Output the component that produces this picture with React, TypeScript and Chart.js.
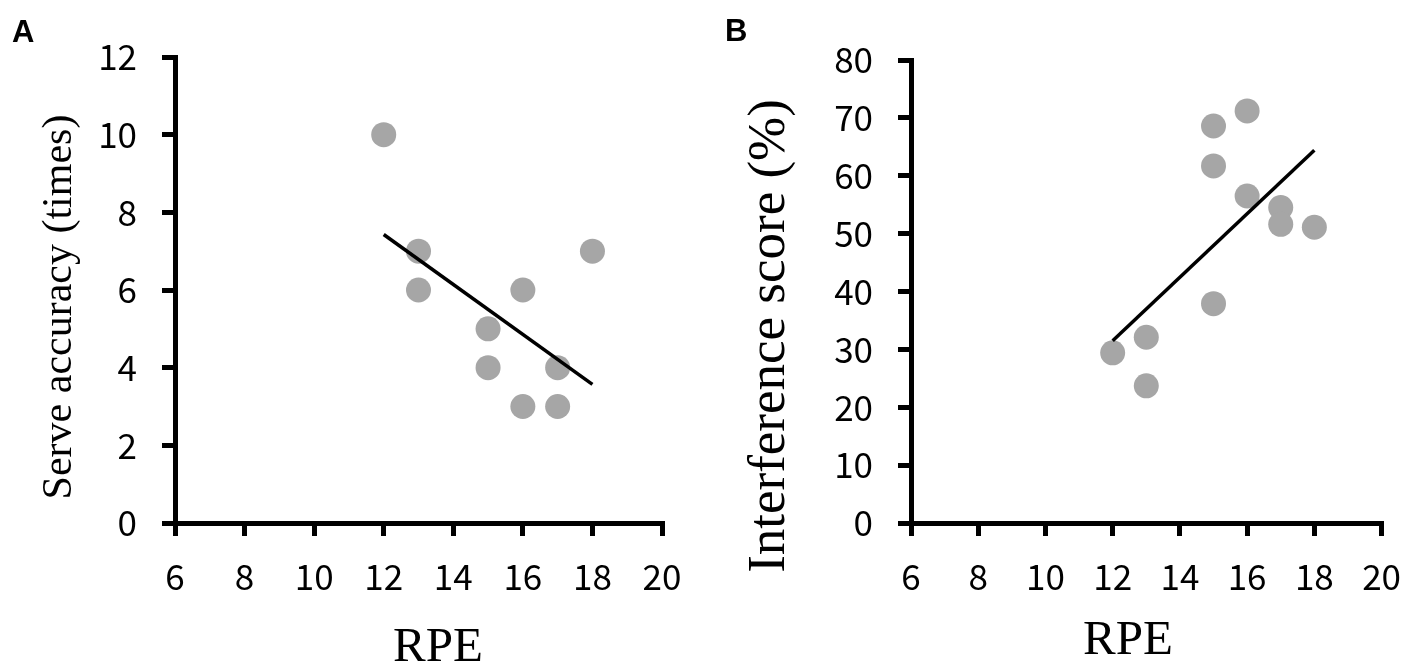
import React, { useEffect, useRef } from 'react';
import { Chart, registerables } from 'chart.js';

Chart.register(...registerables);

// ---------- data ----------
const rpeTicks = [6, 8, 10, 12, 14, 16, 18, 20];

const serveTicks = [0, 2, 4, 6, 8, 10, 12];
const rpeA = [12, 13, 13, 15, 15, 16, 16, 17, 17, 18];
const serveAccuracy = [10, 7, 6, 5, 4, 6, 3, 4, 3, 7];
const trendAX = [12, 18];
const trendAY = [7.43, 3.57];

const interferenceTicks = [0, 10, 20, 30, 40, 50, 60, 70, 80];
const rpeB = [12, 13, 13, 15, 15, 15, 16, 16, 17, 17, 18];
const interferenceScore = [29.4, 32.1, 23.7, 68.6, 61.7, 37.9, 71.2, 56.5, 54.5, 51.6, 51.1];
const trendBX = [12, 18];
const trendBY = [31.5, 64.4];

// ---------- helpers ----------
const pts = (xs: number[], ys: number[]) => xs.map((x, i) => ({ x, y: ys[i] }));

const textPlugin = {
  id: 'panelTexts',
  afterDraw(chart: any, _args: any, opts: any) {
    const ctx = chart.ctx;
    for (const t of opts.items || []) {
      ctx.save();
      ctx.font = t.font;
      ctx.fillStyle = '#000';
      ctx.textAlign = t.align || 'center';
      ctx.textBaseline = t.baseline || 'alphabetic';
      ctx.translate(t.x, t.y);
      if (t.rotate) ctx.rotate(t.rotate);
      ctx.fillText(t.text, 0, 0);
      ctx.restore();
    }
  },
};

const tickFont = { family: '"Noto Sans CJK KR", "Noto Sans", sans-serif', size: 35 };
const serif = '"Liberation Serif", "Times New Roman", serif';

function makeConfig(p: {
  xs: number[]; ys: number[]; lx: number[]; ly: number[];
  yTicks: number[]; padding: any; yWidth: number; texts: any[];
}): any {
  const axisCommon = {
    border: { display: true, color: '#000', width: 5 },
    grid: {
      display: true,
      drawOnChartArea: false,
      drawTicks: true,
      tickLength: 13,
      tickWidth: 5,
      lineWidth: 5,
      tickColor: '#000',
      color: '#000',
    },
  };
  return {
    type: 'scatter',
    data: {
      datasets: [
        {
          type: 'line',
          data: pts(p.lx, p.ly),
          borderColor: '#000',
          borderWidth: 3.5,
          pointRadius: 0,
          fill: false,
          order: 0,
        },
        {
          type: 'scatter',
          data: pts(p.xs, p.ys),
          backgroundColor: '#a6a6a6',
          borderWidth: 0,
          pointRadius: 12.5,
          pointHoverRadius: 12.5,
          order: 1,
        },
      ],
    },
    options: {
      responsive: false,
      animation: false,
      layout: { padding: p.padding },
      plugins: {
        legend: { display: false },
        tooltip: { enabled: false },
        panelTexts: { items: p.texts },
      },
      scales: {
        x: {
          type: 'linear',
          min: rpeTicks[0],
          max: rpeTicks[rpeTicks.length - 1],
          afterBuildTicks: (s: any) => { s.ticks = rpeTicks.map((v) => ({ value: v })); },
          afterFit: (s: any) => { s.height = 144; },
          ticks: { color: '#000', font: tickFont, padding: 20, maxRotation: 0, autoSkip: false },
          ...axisCommon,
        },
        y: {
          type: 'linear',
          min: p.yTicks[0],
          max: p.yTicks[p.yTicks.length - 1],
          afterBuildTicks: (s: any) => { s.ticks = p.yTicks.map((v) => ({ value: v })); },
          afterFit: (s: any) => { s.width = p.yWidth; },
          ticks: { color: '#000', font: tickFont, padding: 25, autoSkip: false },
          ...axisCommon,
        },
      },
    },
    plugins: [textPlugin],
  };
}

function Panel(props: { left: number; width: number; config: any }) {
  const ref = useRef<HTMLCanvasElement>(null);
  useEffect(() => {
    if (!ref.current) return;
    const chart = new Chart(ref.current, props.config);
    return () => chart.destroy();
  }, []);
  return (
    <canvas
      ref={ref}
      width={props.width}
      height={667}
      style={{ position: 'absolute', left: props.left, top: 0, width: props.width, height: 667 }}
    />
  );
}

export default function App() {
  const configA = makeConfig({
    xs: rpeA, ys: serveAccuracy, lx: trendAX, ly: trendAY,
    yTicks: serveTicks,
    padding: { left: 0, top: 57, right: 48, bottom: 0 },
    yWidth: 175,
    texts: [
      { text: 'A', x: 12, y: 42, align: 'left', font: 'bold 31px "Liberation Sans", Arial, sans-serif' },
      { text: 'Serve accuracy (times)', x: 60, y: 307, rotate: -Math.PI / 2, baseline: 'middle', font: `42px ${serif}` },
      { text: 'RPE', x: 438, y: 661, font: `49px ${serif}` },
    ],
  });
  const configB = makeConfig({
    xs: rpeB, ys: interferenceScore, lx: trendBX, ly: trendBY,
    yTicks: interferenceTicks,
    padding: { left: 0, top: 60, right: 28, bottom: 0 },
    yWidth: 201,
    texts: [
      { text: 'B', x: 15, y: 41, align: 'left', font: 'bold 31px "Liberation Sans", Arial, sans-serif' },
      { text: 'Interference score (%)', x: 60, y: 336, rotate: -Math.PI / 2, baseline: 'middle', font: `53px ${serif}` },
      { text: 'RPE', x: 418, y: 654, font: `49px ${serif}` },
    ],
  });
  return (
    <div style={{ position: 'absolute', left: 0, top: 0, width: 1421, height: 667, background: '#fff' }}>
      <Panel left={0} width={710} config={configA} />
      <Panel left={710} width={711} config={configB} />
    </div>
  );
}
